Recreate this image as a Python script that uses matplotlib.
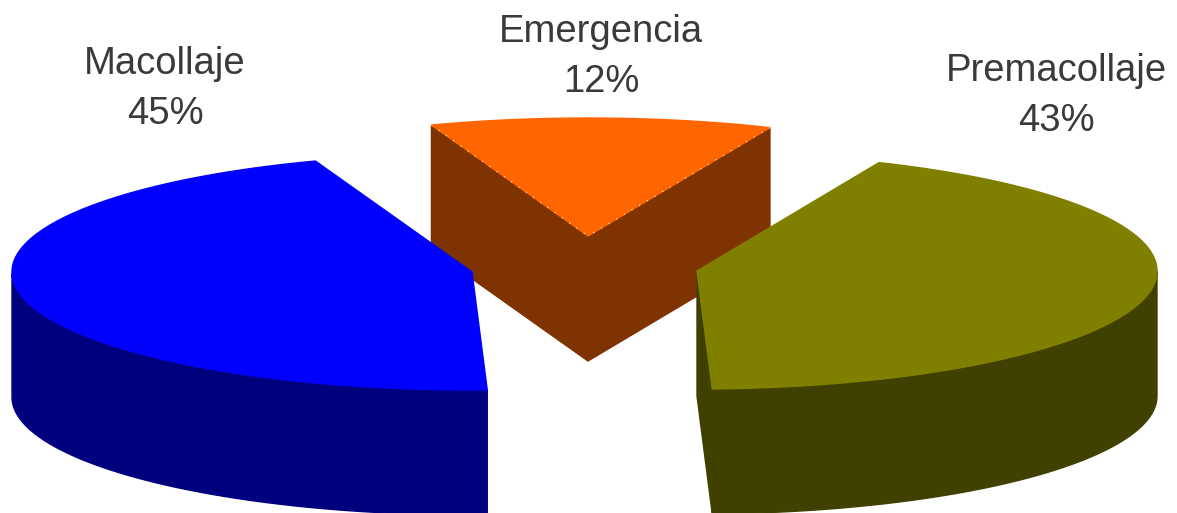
import numpy as np
import matplotlib
matplotlib.use("Agg")
import matplotlib.pyplot as plt
from matplotlib.patches import Polygon

categories = ["Emergencia", "Premacollaje", "Macollaje"]
percentages = [12, 43, 45]
top_colors = ["#FF6600", "#808000", "#0000FF"]
side_colors = ["#7F3300", "#404000", "#00007F"]
apexes = [(588, 236), (697, 271), (472, 272)]
label_xy = [(601, 57), (1056, 96), (165, 89)]
START_DEG = 23.3 - 360 * percentages[0] / 100  # clockwise from twelve o'clock
RX, RY, DEPTH = 460, 118, 125

fig = plt.figure(figsize=(11.77, 5.13), dpi=100, facecolor="white")
ax = fig.add_axes([0, 0, 1, 1])
ax.set_xlim(0, 1177)
ax.set_ylim(513, 0)
ax.axis("off")


def rim(apex, a0, a1):
    t = np.radians(np.linspace(a0, a1, 200))
    return apex[0] + RX * np.sin(t), apex[1] - RY * np.cos(t)


def draw_slice(i, a0, a1):
    apex = apexes[i]
    x, y = rim(apex, a0, a1)
    top, side = top_colors[i], side_colors[i]
    kw = dict(closed=True, lw=1.0, zorder=i + 2)
    # outer wall: only the part of the rim facing the viewer
    m = (np.cos(np.radians(np.linspace(a0, a1, 200))) <= 0)
    if m.any():
        wall = np.r_[np.c_[x[m], y[m]], np.c_[x[m], y[m] + DEPTH][::-1]]
        ax.add_patch(Polygon(wall, fc=side, ec=side, **kw))
    # cut faces that turn toward the viewer
    for ex, ey in ((x[0], y[0]), (x[-1], y[-1])):
        if i == 0 or (i == 1 and ex < apex[0] + 50):
            face = [(apex[0], apex[1]), (ex, ey), (ex, ey + DEPTH), (apex[0], apex[1] + DEPTH)]
            ax.add_patch(Polygon(face, fc=side, ec=side, **kw))
    ax.add_patch(Polygon(np.r_[[apex], np.c_[x, y]], fc=top, ec=top, **kw))
    if i == 0:
        for ex, ey in ((x[0], y[0]), (x[-1], y[-1])):
            ax.plot([ex, apex[0]], [ey, apex[1]], color="#FFF2D8", lw=0.8,
                    ls=(0, (1, 7)), zorder=i + 2.5)


angle = START_DEG
for i, pct in enumerate(percentages):
    span = 360 * pct / 100
    draw_slice(i, angle, angle + span)
    angle += span
    ax.text(label_xy[i][0], label_xy[i][1], f"{categories[i]}\n{pct}%", ha="center", va="center",
            fontsize=27.5, color="#3a3a3a", family="Liberation Sans", linespacing=1.5, zorder=10)

fig.savefig("out.png", dpi=100, facecolor="white")
